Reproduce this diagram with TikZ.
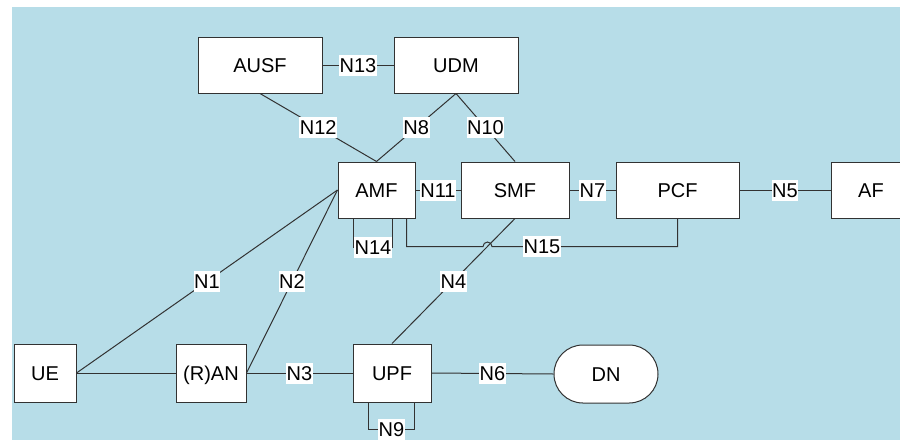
\documentclass[tikz,border=0pt]{standalone}
\usepackage{fontspec}
\setmainfont{Liberation Sans}
\usetikzlibrary{calc}
\definecolor{bgblue}{RGB}{183,221,232}
\definecolor{ink}{RGB}{50,50,50}

\begin{document}
\begin{tikzpicture}[x=1pt,y=-1pt,
  font=\fontsize{20}{24}\selectfont,
  nfbox/.style={draw=ink, fill=white, line width=1pt, minimum height=56pt,
    inner sep=0pt, text height=14.3pt, text depth=0pt},
  link/.style={draw=ink, line width=1pt},
  lbl/.style={fill=white, inner xsep=0.5pt, inner ysep=0pt, minimum height=21pt,
    text height=14.3pt, text depth=0pt}]

% canvas and background
\clip (0,0) rectangle (900,440);
\fill[bgblue] (12,7) rectangle (900,440);

% network functions
\node[nfbox, minimum width=124pt] (ausf) at (260,65) {AUSF};
\node[nfbox, minimum width=124pt] (udm)  at (456,65) {UDM};
\node[nfbox, minimum width=77pt]  (amf)  at (376.5,190) {AMF};
\node[nfbox, minimum width=108pt] (smf)  at (515,190) {SMF};
\node[nfbox, minimum width=123pt] (pcf)  at (677.5,190) {PCF};
\node[nfbox, minimum width=80pt]  (af)   at (871,190) {AF};
\node[nfbox, minimum width=62pt, minimum height=58pt] (ue)  at (45,373) {UE};
\node[nfbox, minimum width=70pt, minimum height=58pt] (ran) at (211,373) {(R)AN};
\node[nfbox, minimum width=78pt, minimum height=58pt] (upf) at (392,373) {UPF};
\node[nfbox, minimum width=104pt, minimum height=58pt, rounded corners=28.9pt] (dn) at (606,374) {DN};

% reference points
\draw[link] (ausf.east)  -- node[lbl]{N13} (udm.west);
\draw[link] (ausf.south) -- node[lbl]{N12} (amf.north);
\draw[link] (udm.south)  -- node[lbl]{N8}  (amf.north);
\draw[link] (udm.south)  -- node[lbl]{N10} (smf.north);
\draw[link] (amf.east)   -- node[lbl]{N11} (smf.west);
\draw[link] (smf.east)   -- node[lbl]{N7}  (pcf.west);
\draw[link] (pcf.east)   -- node[lbl]{N5}  (af.west);
\draw[link] (ue.east)    -- node[lbl]{N1}  (amf.west);
\draw[link] (ran.east)   -- node[lbl]{N2}  (amf.west);
\draw[link] (ue.east)    -- (ran.west);
\draw[link] (ran.east)   -- node[lbl]{N3}  (upf.west);
\draw[link] (upf.east)   -- node[lbl]{N6}  (dn.west);

% N15 from AMF to PCF, hopping over N4
\coordinate (n15a) at ($(amf.south east)+(-9,0)$);
\coordinate (n15b) at ($(n15a)+(0,28)$);
\coordinate (n15c) at (n15b -| pcf.south);
\coordinate (hop) at (intersection of smf.south--upf.north and n15b--n15c);
\draw[link] (n15a) -- (n15b) -- ($(hop)+(-4.5,0)$)
  arc[start angle=180, end angle=0, radius=4.5pt] -- (n15c) -- (pcf.south);
\node[lbl] (l15) at ($(n15b)!0.5!(n15c)$) {N15};

\draw[link] (smf.south) -- node[lbl]{N4} (upf.north);

% N14 loop on AMF
\coordinate (n14a) at ($(amf.south west)+(16,0)$);
\coordinate (n14b) at ($(amf.south west)+(55,0)$);
\coordinate (n14c) at ($(n14a)+(0,29)$);
\coordinate (n14d) at ($(n14b)+(0,29)$);
\draw[link] (n14a) -- (n14c) -- node[lbl]{N14} (n14d) -- (n14b);

% N9 loop on UPF
\coordinate (n9a) at ($(upf.south west)+(16,0)$);
\coordinate (n9b) at ($(upf.south west)+(62,0)$);
\coordinate (n9c) at ($(n9a)+(0,27)$);
\coordinate (n9d) at ($(n9b)+(0,27)$);
\draw[link] (n9a) -- (n9c) -- node[lbl]{N9} (n9d) -- (n9b);
\end{tikzpicture}
\end{document}
